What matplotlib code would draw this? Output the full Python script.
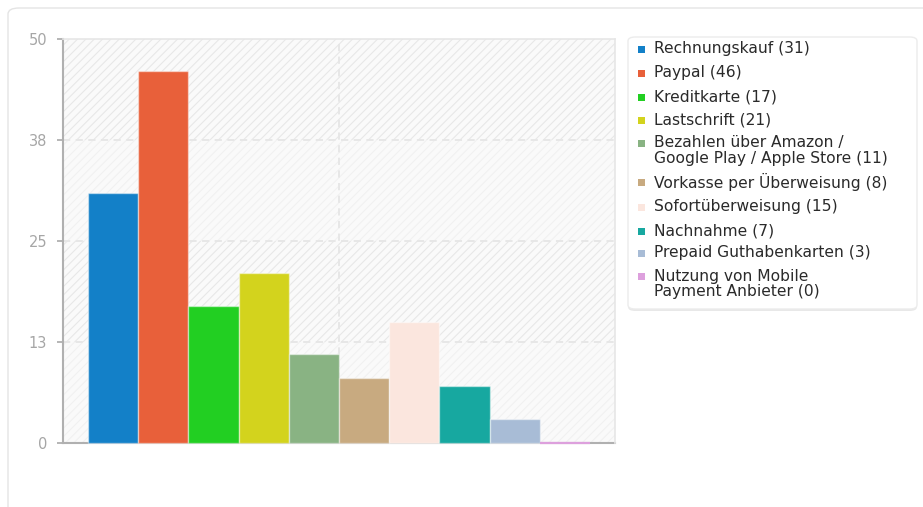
import matplotlib
matplotlib.use("Agg")
import matplotlib.pyplot as plt
from matplotlib.patches import FancyBboxPatch, Rectangle
import numpy as np

categories = ["Rechnungskauf", "Paypal", "Kreditkarte", "Lastschrift",
              "Bezahlen über Amazon /\nGoogle Play / Apple Store",
              "Vorkasse per Überweisung", "Sofortüberweisung", "Nachnahme",
              "Prepaid Guthabenkarten", "Nutzung von Mobile\nPayment Anbieter"]
values = [31, 46, 17, 21, 11, 8, 15, 7, 3, 0]
colors = ["#1380C8", "#E8603A", "#22CF22", "#D3D31D", "#89B383",
          "#C8AA80", "#FBE6DE", "#17A8A0", "#A8BCD6", "#DDA0DD"]
ytick_vals = [0, 12.5, 25, 37.5, 50]
ytick_labels = ["0", "13", "25", "38", "50"]

plt.rcParams['font.family'] = ['DejaVu Sans']
plt.rcParams['hatch.linewidth'] = 0.8

W, H = 923, 507
fig = plt.figure(figsize=(W / 100, H / 100), dpi=100)

# outer card
card = FancyBboxPatch((8 / W, -20 / H), (940 - 8) / W, (H - 8 + 20) / H,
                      boxstyle="round,pad=0,rounding_size=0.012",
                      transform=fig.transFigure, facecolor="white",
                      edgecolor="#e4e4e4", linewidth=1.0, zorder=-5)
fig.patches.append(card)

ax = fig.add_axes([63 / W, (H - 443) / H, 552 / W, 404 / H])
ax.set_zorder(2)
ax.set_facecolor("#fafafa")
ax.set_xlim(-1, 10)
ax.set_ylim(0, 50)

# banded hatch background
for i, (lo, hi) in enumerate(zip(ytick_vals[:-1], ytick_vals[1:])):
    hc = "#f1f1f1" if i % 2 == 0 else "#e8e8e8"
    ax.axhspan(lo, hi, facecolor="#fafafa", edgecolor=hc, hatch="////",
               linewidth=0, zorder=0)

# grid
for y in ytick_vals[1:-1]:
    ax.axhline(y, color="#e6e6e6", linewidth=1.3, linestyle=(0, (4, 3)), zorder=1)
ax.axvline(4.5, color="#e6e6e6", linewidth=1.3, linestyle=(0, (4, 3)), zorder=1)

x = np.arange(len(values))
for xi, v, c in zip(x, values, colors):
    ax.bar(xi, v, width=1.0, color=c, edgecolor=(1, 1, 1, 0.45) if v > 0 else c,
           linewidth=1.0 if v > 0 else 1.6, zorder=3, clip_on=False)

ax.set_yticks(ytick_vals)
ax.set_yticklabels(ytick_labels)
ax.set_xticks([])
ax.tick_params(axis='y', length=4.5, width=1.3, color="#b0b0b0",
               labelcolor="#a6a6a6", labelsize=10.5, pad=7)
for s in ["left", "bottom"]:
    ax.spines[s].set_color("#b0b0b0")
    ax.spines[s].set_linewidth(1.5)
    ax.spines[s].set_zorder(2)
for s in ["top", "right"]:
    ax.spines[s].set_color("#e6e6e6")
    ax.spines[s].set_linewidth(1.2)

# legend box (manual)
lx0, ly0, lx1, ly1 = 628, 37, 917, 309
shadow = FancyBboxPatch((lx0 / W, (H - ly1 - 2) / H), (lx1 - lx0) / W, (ly1 - ly0) / H,
                        boxstyle="round,pad=0,rounding_size=0.008",
                        transform=fig.transFigure, facecolor="#e8e8e8",
                        edgecolor="none", zorder=1)
fig.patches.append(shadow)
lbox = FancyBboxPatch((lx0 / W, (H - ly1) / H), (lx1 - lx0) / W, (ly1 - ly0) / H,
                      boxstyle="round,pad=0,rounding_size=0.008",
                      transform=fig.transFigure, facecolor="white",
                      edgecolor="#ececec", linewidth=1.0, zorder=2)
fig.patches.append(lbox)

label_y = [49, 73, 97, 120, 143, 182, 207, 231, 253, 276]
line_gap = 15.5
for cat, v, c, yy in zip(categories, values, colors, label_y):
    fig.patches.append(Rectangle((638 / W, (H - yy - 3.5) / H), 7 / W, 7 / H,
                                 transform=fig.transFigure, facecolor=c,
                                 edgecolor="none", zorder=3))
    lines = f"{cat} ({v})".split("\n")
    for k, ln in enumerate(lines):
        fig.text(654 / W, (H - yy - k * line_gap) / H, ln, fontsize=11.2,
                 color="#2a2a2a", va="center", ha="left", zorder=4)

fig.savefig("out.png", dpi=100)
